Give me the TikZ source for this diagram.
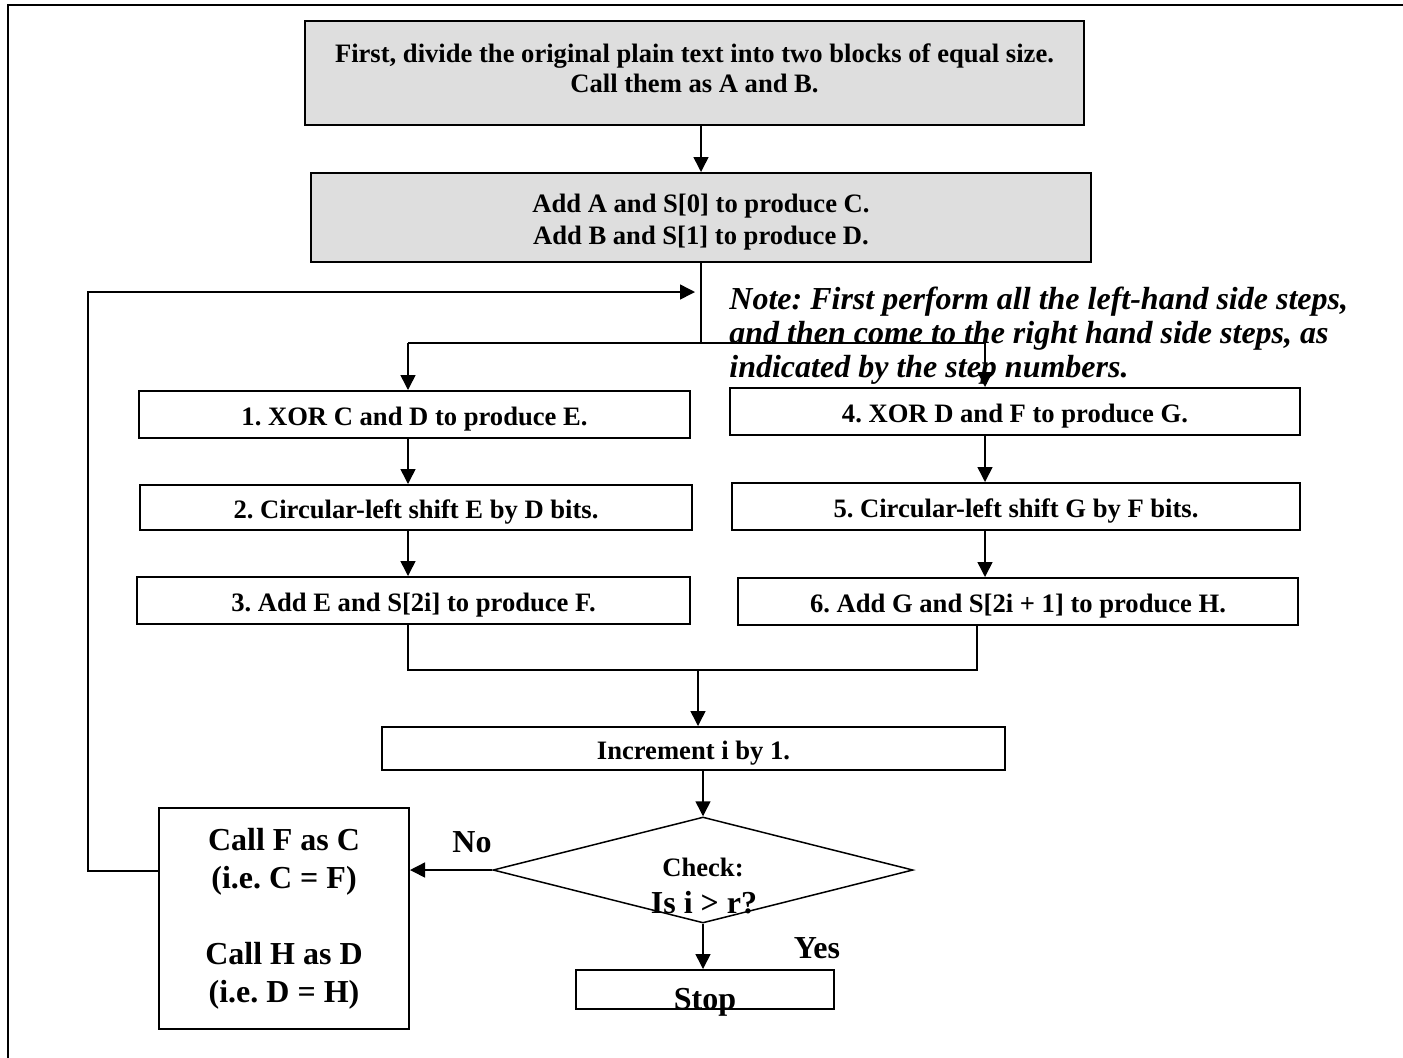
\documentclass[tikz,border=0pt]{standalone}
\usepackage{fontspec}
\setmainfont{Liberation Serif}
\usetikzlibrary{arrows.meta,shapes.geometric}
\frenchspacing
\begin{document}
\begin{tikzpicture}[x=0.5pt,y=-0.5pt,
  box/.style={draw, line width=1pt, inner sep=0pt, align=center,
    font=\fontsize{13.3}{15}\selectfont\bfseries},
  onel/.style={box, text height=11.5pt, text depth=0.5pt},
  graybox/.style={box, fill=black!13},
  big/.style={inner sep=0pt, align=center, font=\fontsize{16}{19}\selectfont\bfseries},
  line/.style={line width=0.75pt},
  arr/.style={line width=0.75pt, -{Triangle[length=7.5pt,width=7.5pt]}}]
\useasboundingbox (0,0) rectangle (1403,1057);
% frame
\draw[line width=1pt] (8,1070) -- (8,5) -- (1420,5);
% boxes
\node[graybox, minimum width=389.5pt, minimum height=52pt] (top) at (694.5,73)
  {First, divide the original plain text into two blocks of equal size.\\Call them as A and B.\rule[-5pt]{0pt}{5pt}};
\node[graybox, minimum width=390pt, minimum height=44.5pt,
  font=\fontsize{13.3}{16}\selectfont\bfseries] (add) at (701,217.5)
  {\rule{0pt}{14pt}Add A and S[0] to produce C.\\Add B and S[1] to produce D.};
\node[onel, minimum width=275.5pt, minimum height=23.5pt] (b1) at (414.5,414.5) {1. XOR C and D to produce E.};
\node[onel, minimum width=276pt, minimum height=22.5pt] (b2) at (416,507.5) {2. Circular-left shift E by D bits.};
\node[onel, minimum width=276.5pt, minimum height=23.5pt] (b3) at (413.5,600.5) {3. Add E and S[2i] to produce F.};
\node[onel, minimum width=285pt, minimum height=23.5pt] (b4) at (1015,411.5) {4. XOR D and F to produce G.};
\node[onel, minimum width=284pt, minimum height=23.5pt] (b5) at (1016,506.5) {5. Circular-left shift G by F bits.};
\node[onel, minimum width=280pt, minimum height=23.5pt] (b6) at (1018,601.5) {6. Add G and S[2i + 1] to produce H.};
\node[onel, minimum width=311.5pt, minimum height=21.5pt] (inc) at (693.5,748.5) {Increment i by 1.};
\node[draw, diamond, line width=0.75pt, minimum width=210pt, minimum height=53pt, inner sep=0pt] (chk) at (703,870) {};
\node[inner sep=0pt, font=\fontsize{13.3}{15}\selectfont\bfseries] (chk1) at (703,867) {Check:};
\node[big] (chk2) at (704,903) {Is i > r?};
\node[box, minimum width=125pt, minimum height=110.5pt, font=\fontsize{16}{19}\selectfont\bfseries] (call) at (284,918.5)
  {Call F as C\\(i.e. C = F)\\[19pt]Call H as D\\(i.e. D = H)};
\node[box, minimum width=129pt, minimum height=19.5pt] (stop) at (705,989.5) {};
\node[big] (stoptxt) at (705,1002) {Stop};
\node[big] (no) at (472,842) {No};
\node[big] (yes) at (817,948) {Yes};
\node[anchor=west, inner sep=0pt, align=left, font=\fontsize{16}{17}\selectfont\bfseries\itshape] (note) at (729,336)
  {Note: First perform all the left-hand side steps,\\and then come to the right hand side steps, as\\indicated by the step numbers.};
% coordinates
\coordinate (split) at (701,343);
\coordinate (jL) at (408,343);
\coordinate (jR) at (985,343);
\coordinate (mL) at (408,670);
\coordinate (mR) at (977,670);
\coordinate (mid) at (698,670);
\coordinate (lp) at (88,871);
\coordinate (lend) at (695,292);
% connectors
\draw[arr] (top.south -| add.north) -- (add.north);
\draw[line] (add.south) -- (split);
\draw[line] (jL) -- (jR);
\draw[arr] (jL) -- (jL |- b1.north);
\draw[arr] (jR) -- (jR |- b4.north);
\draw[arr] (b1.south -| jL) -- (b2.north -| jL);
\draw[arr] (b2.south -| jL) -- (b3.north -| jL);
\draw[arr] (b4.south -| jR) -- (b5.north -| jR);
\draw[arr] (b5.south -| jR) -- (b6.north -| jR);
\draw[line] (b3.south -| mL) -- (mL) -- (mR) -- (b6.south -| mR);
\draw[arr] (mid) -- (mid |- inc.north);
\draw[arr] (inc.south -| chk.north) -- (chk.north);
\draw[arr] (chk.south) -- (chk.south |- stop.north);
\draw[arr] (chk.west) -- (call.east |- chk.west);
\draw[arr] (call.west |- lp) -- (lp) |- (lend);
\end{tikzpicture}
\end{document}
